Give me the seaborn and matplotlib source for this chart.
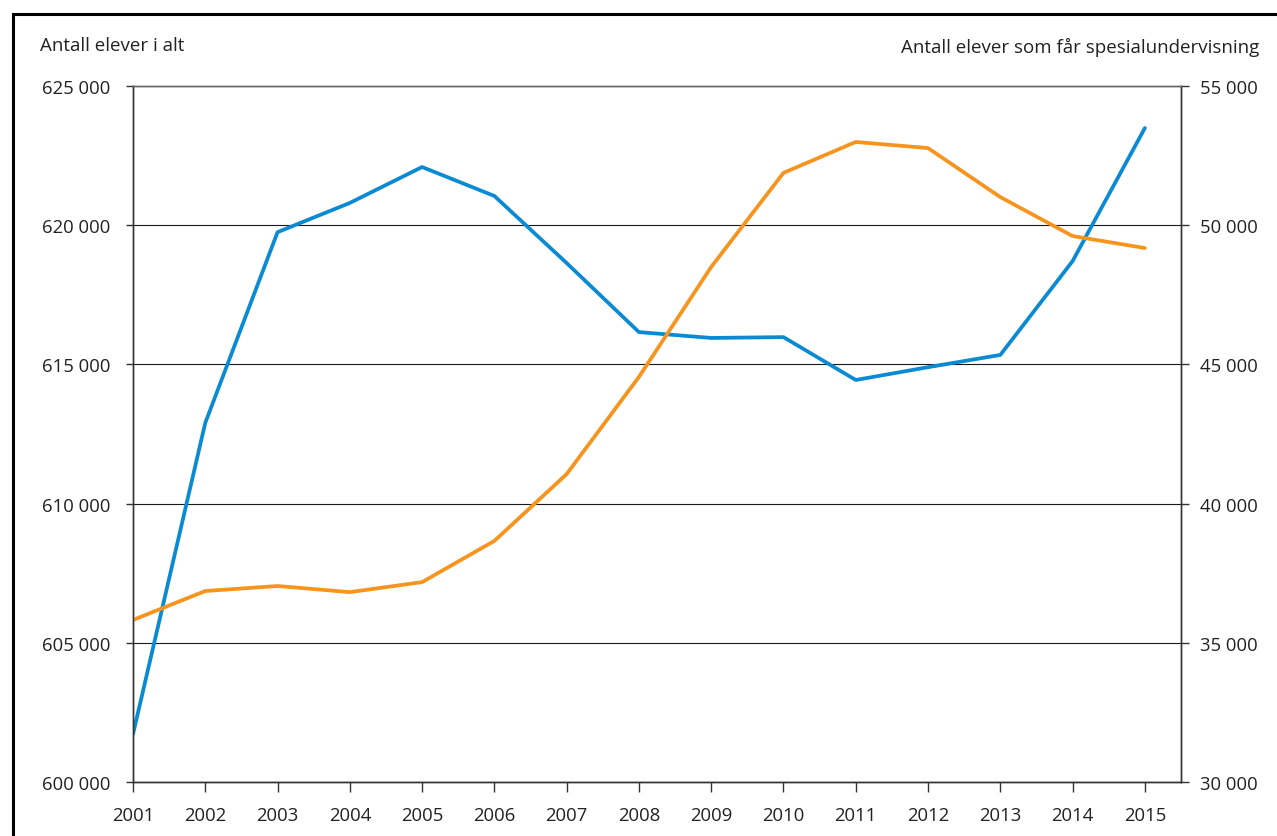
import matplotlib
matplotlib.use("Agg")
import matplotlib.pyplot as plt
import seaborn as sns
import pandas as pd
from matplotlib.ticker import FuncFormatter, MultipleLocator
from matplotlib.patches import Rectangle

aar = list(range(2001, 2016))
elever_i_alt = [601720, 612900, 619750, 620800, 622090, 621050, 618640, 616160,
                615950, 615980, 614440, 614900, 615340, 618710, 623490]
spesialundervisning = [35820, 36860, 37040, 36820, 37180, 38660, 41060, 44550,
                       48500, 51880, 52990, 52770, 51010, 49610, 49180]

venstre_tittel = "Antall elever i alt"
hoyre_tittel = "Antall elever som får spesialundervisning"

df = pd.DataFrame({"aar": aar, "alt": elever_i_alt, "spes": spesialundervisning})

sns.set_style("white")
plt.rcParams["font.family"] = ["Open Sans", "DejaVu Sans"]
plt.rcParams["font.size"] = 13

blaa = "#0a8ad2"
oransje = "#f7941d"

fig = plt.figure(figsize=(12.77, 8.37), dpi=100)
ax = fig.add_axes([133 / 1277, 1 - 783 / 837, (1181 - 133) / 1277, (783 - 87) / 837])
ax2 = ax.twinx()

sns.lineplot(data=df, x="aar", y="alt", ax=ax, color=blaa, linewidth=2.7)
sns.lineplot(data=df, x="aar", y="spes", ax=ax2, color=oransje, linewidth=2.7)

ax.set_xlim(2001, 2015.5)
ax.set_ylim(600000, 625000)
ax2.set_ylim(30000, 55000)
ax.yaxis.set_major_locator(MultipleLocator(5000))
ax2.yaxis.set_major_locator(MultipleLocator(5000))
ax.set_xticks(aar)

fmt = FuncFormatter(lambda v, p: f"{int(v):,}".replace(",", " "))
ax.yaxis.set_major_formatter(fmt)
ax2.yaxis.set_major_formatter(fmt)

ax.grid(axis="y", color="#1a1a1a", linewidth=0.8)
ax.set_axisbelow(True)
ax.set_xlabel("")
ax.set_ylabel("")
ax2.set_ylabel("")

for a in (ax, ax2):
    for s in a.spines.values():
        s.set_color("#333333")
        s.set_linewidth(1.0)
    a.spines["top"].set_color("#666666")
ax.tick_params(axis="y", direction="out", length=5, width=1, color="#333333",
               pad=11, labelcolor="#222222", labelsize=13.3, left=True)
ax.tick_params(axis="x", direction="out", length=7, width=1, color="#333333",
               pad=10, labelcolor="#222222", labelsize=13.3, bottom=True)
ax2.tick_params(axis="y", direction="out", length=6, width=1, color="#333333",
                pad=8, labelcolor="#222222", labelsize=13.3, right=True)

fig.text(40 / 1277, 1 - 46 / 837, venstre_tittel, ha="left", va="center",
         fontsize=13.5, color="#222222")
fig.text(1259 / 1277, 1 - 47 / 837, hoyre_tittel, ha="right", va="center",
         fontsize=13.5, color="#222222")

fig.patches.append(Rectangle((12.5 / 1277, -0.1), 1.2, 1 - 14.5 / 837 + 0.1,
                             transform=fig.transFigure, fill=False,
                             edgecolor="black", linewidth=2.2))

fig.savefig("out.png", dpi=100)
